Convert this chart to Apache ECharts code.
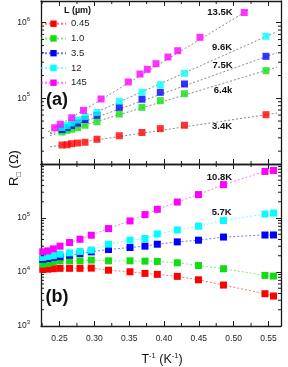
<!DOCTYPE html>
<html><head><meta charset="utf-8">
<script src="https://cdn.jsdelivr.net/npm/echarts@6/dist/echarts.min.js"></script>
<style>html,body{margin:0;padding:0;background:#fff}#c{width:288px;height:367px}</style>
</head><body><div id="c"></div>
<script>
// ---------- data ----------
const sampleNames = ['0.45', '1.0', '3.5', '12', '145'];
const sampleColors = ['#ff0000', '#11dd11', '#0000ff', '#00ffff', '#ff00ff'];

// panel (a): x = 1/T (K^-1), R in ohm
const xA = [0.2536, 0.2608, 0.2672, 0.2758, 0.2866, 0.3038, 0.3358, 0.3684, 0.3947, 0.4294, 0.5464];
const xA145 = [0.2431, 0.2511, 0.2675, 0.2844, 0.3096, 0.3488, 0.3655, 0.3760, 0.3885, 0.4057, 0.4197, 0.4517, 0.5152];
const rA045 = [24100, 24300, 25100, 25600, 26200, 28700, 32000, 35300, 39700, 44000, 60700];
const rA10 = [35800, 37700, 38900, 40800, 44000, 49000, 61900, 76000, 93000, 115000, 232000];
const rA35 = [38600, 41100, 43700, 47100, 52400, 59600, 76000, 97300, 120000, 154700, 359000];
const rA12 = [41100, 43700, 47100, 51600, 57400, 64900, 91500, 120400, 151400, 214000, 661000];
const rA145 = [40800, 45400, 55200, 69300, 97900, 164400, 209500, 241800, 287000, 351700, 426300, 641000, 1365000];

// panel (a) fit lines (end points)
const fitX = [0.2364, 0.5622];
const fitX145 = [0.2335, 0.5219];
const fitR045 = [22800, 63700];
const fitR10 = [32100, 258700];
const fitR35 = [33900, 400000];
const fitR12 = [35000, 761000];
const fitR145 = [36000, 1490000];
const fitLabels = ['3.4K', '6.4k', '7.5K', '9.6K', '13.5K'];

// panel (b)
const xB = [0.2259, 0.2331, 0.2411, 0.2507, 0.2644, 0.2794, 0.2956, 0.3203, 0.3512, 0.3727, 0.3904, 0.4191, 0.4495, 0.4854, 0.5450, 0.5572];
const rB045 = [11200, 11300, 11500, 11700, 11700, 11700, 11800, 10800, 10100, 9420, 9030, 8300, 7180, 5730, 3960, 3590];
const rB10 = [14000, 14400, 15400, 16100, 16100, 16100, 16600, 16100, 16100, 15900, 15700, 14800, 13200, 11500, 8650, 8400];
const rB35 = [17100, 17800, 18600, 19200, 20500, 22000, 23600, 26100, 28400, 30100, 32700, 36100, 38800, 44400, 48400, 48500];
const rB12 = [18600, 19400, 20100, 21400, 22600, 24000, 25400, 32700, 38800, 41700, 50700, 60100, 70400, 89600, 118500, 123200];
const rB145 = [23600, 24600, 26800, 30100, 35200, 40400, 48000, 63700, 88200, 115600, 144800, 197400, 271500, 415400, 727900, 759000];
const panelBLabels = ['5.7K', '10.8K'];

// axis ticks
const xMinorTicks = [0.225, 0.275, 0.325, 0.375, 0.425, 0.475, 0.525];
const yMinorTicksA = [20000, 30000, 40000, 50000, 60000, 70000, 80000, 90000, 200000, 300000, 400000, 500000, 600000, 700000, 800000, 900000];
const yMinorTicksB = [2000, 3000, 4000, 5000, 6000, 7000, 8000, 9000, 20000, 30000, 40000, 50000, 60000, 70000, 80000, 90000, 200000, 300000, 400000, 500000, 600000, 700000, 800000, 900000];

// ---------- chart ----------
const FONT = '"Liberation Sans", Arial, Helvetica, sans-serif';
const AX = '#1a1a1a';
const X_MIN = 0.2234, X_MAX = 0.568;
const YA_MIN = 13520, YA_MAX = 1937000;
const YB_MIN = 1000, YB_MAX = 1000000;

const zip = (xs, ys) => xs.map((x, i) => [x, ys[i]]);

function xAxis(grid, pos, showLabel) {
  return {
    type: 'value', gridIndex: grid, position: pos, min: X_MIN, max: X_MAX, splitNumber: 7,
    axisLine: { show: true, onZero: false, lineStyle: { color: AX, width: 1.3 } },
    axisTick: { show: true, inside: true, length: 5, lineStyle: { color: AX, width: 1 } },
    axisLabel: {
      show: showLabel, showMinLabel: false, showMaxLabel: false, hideOverlap: false,
      formatter: v => v.toFixed(2), fontSize: 8.5, fontFamily: FONT, color: '#222', margin: 8
    },
    splitLine: { show: false }
  };
}
function powFmt(v) {
  const e = Math.log10(v), r = Math.round(e);
  return Math.abs(e - r) < 1e-4 ? '{b|10}{s|' + r + '}' : '';
}
function yAxis(grid, pos, min, max, showLabel) {
  return {
    type: 'log', logBase: 10, gridIndex: grid, position: pos, min: min, max: max,
    axisLine: { show: true, onZero: false, lineStyle: { color: AX, width: 1.3 } },
    axisTick: { show: true, inside: true, length: 5, lineStyle: { color: AX, width: 1 } },
    axisLabel: {
      show: showLabel, showMaxLabel: grid === 0, hideOverlap: false, formatter: powFmt, margin: 11,
      rich: {
        b: { fontSize: 8.5, fontFamily: FONT, color: '#222', lineHeight: 10 },
        s: { fontSize: 6, fontFamily: FONT, color: '#222', lineHeight: 13, verticalAlign: 'top' }
      }
    },
    splitLine: { show: false }
  };
}
function minorTicks(gi, dim, values, ref) {
  return {
    type: 'custom', xAxisIndex: gi * 2, yAxisIndex: gi * 2, silent: true, clip: false, z: 5,
    data: values.map(v => dim === 'x' ? [v, ref] : [ref, v]),
    renderItem: (params, api) => {
      const cs = params.coordSys;
      const p = api.coord([api.value(0), api.value(1)]);
      const L = 3, st = { stroke: AX, lineWidth: 1 };
      if (dim === 'x') {
        return { type: 'group', children: [
          { type: 'line', shape: { x1: p[0], y1: cs.y + cs.height, x2: p[0], y2: cs.y + cs.height - L }, style: st },
          { type: 'line', shape: { x1: p[0], y1: cs.y, x2: p[0], y2: cs.y + L }, style: st }
        ] };
      }
      return { type: 'group', children: [
        { type: 'line', shape: { x1: cs.x, y1: p[1], x2: cs.x + L, y2: p[1] }, style: st },
        { type: 'line', shape: { x1: cs.x + cs.width, y1: p[1], x2: cs.x + cs.width - L, y2: p[1] }, style: st }
      ] };
    }
  };
}

const rA = [rA045, rA10, rA35, rA12, rA145];
const xAs = [xA, xA, xA, xA, xA145];
const fitRs = [fitR045, fitR10, fitR35, fitR12, fitR145];
const fitXs = [fitX, fitX, fitX, fitX, fitX145];
const rB = [rB045, rB10, rB35, rB12, rB145];

const series = [];
sampleNames.forEach((n, i) => series.push({
  name: n, type: 'line', xAxisIndex: 2, yAxisIndex: 2, data: zip(xB, rB[i]),
  symbol: 'rect', symbolSize: 7, z: 3,
  itemStyle: { color: sampleColors[i] },
  lineStyle: { color: sampleColors[i], width: 1, type: [2, 2], opacity: 0.55 }
}));
sampleNames.forEach((n, i) => series.push({
  name: 'fit ' + n, type: 'line', xAxisIndex: 0, yAxisIndex: 0, data: zip(fitXs[i], fitRs[i]),
  symbol: 'none', silent: true, z: 2,
  lineStyle: { color: '#8a8a8a', width: 1, type: [2, 2] }
}));
sampleNames.forEach((n, i) => series.push({
  name: n, type: 'scatter', xAxisIndex: 0, yAxisIndex: 0, data: zip(xAs[i], rA[i]),
  symbol: 'rect', symbolSize: 7, z: 3, itemStyle: { color: sampleColors[i] }
}));
series.push(minorTicks(0, 'x', xMinorTicks, 100000));
series.push(minorTicks(1, 'x', xMinorTicks, 10000));
series.push(minorTicks(0, 'y', yMinorTicksA, 0.3));
series.push(minorTicks(1, 'y', yMinorTicksB, 0.3));

function txt(x, y, s, font, extra) {
  return Object.assign({ type: 'text', x: x, y: y, style: { text: s, font: font, fill: '#111', textAlign: 'center', textVerticalAlign: 'middle' } }, extra || {});
}
const BOLD9 = 'bold 9.5px ' + FONT;
const annPos = [[222, 126], [223, 90.8], [222.5, 65], [222, 47.7], [220, 12.7]];
const annPosB = [[221.7, 212.3], [219.5, 177]];
const graphics = [];
fitLabels.forEach((s, i) => graphics.push(txt(annPos[i][0], annPos[i][1], s, BOLD9)));
panelBLabels.forEach((s, i) => graphics.push(txt(annPosB[i][0], annPosB[i][1], s, BOLD9)));
graphics.push(txt(77.5, 11, 'L (µm)', 'bold 9px ' + FONT));
graphics.push(txt(57, 100, '(a)', 'bold 18px ' + FONT));
graphics.push(txt(57, 297.5, '(b)', 'bold 18px ' + FONT));
graphics.push({
  type: 'text', x: 162, y: 360,
  style: {
    text: '{n|T}{s|-1}{n| (K}{s|-1}{n|)}', textAlign: 'center', textVerticalAlign: 'middle',
    rich: {
      n: { fontSize: 12.5, fontFamily: FONT, fill: '#111', lineHeight: 14 },
      s: { fontSize: 7.5, fontFamily: FONT, fill: '#111', lineHeight: 16, verticalAlign: 'top' }
    }
  }
});
graphics.push({
  type: 'text', x: 14, y: 168, rotation: Math.PI / 2,
  style: {
    text: '{n|R}{s|□}{n| (Ω)}', textAlign: 'center', textVerticalAlign: 'middle',
    rich: {
      n: { fontSize: 13, fontFamily: FONT, fill: '#111', lineHeight: 14 },
      s: { fontSize: 7.5, fontFamily: FONT, fill: '#111', lineHeight: 18, verticalAlign: 'bottom' }
    }
  }
});

const chart = echarts.init(document.getElementById('c'), null, { renderer: 'canvas' });
chart.setOption({
  animation: false,
  backgroundColor: '#fff',
  textStyle: { fontFamily: FONT },
  grid: [
    { left: 41, top: 1, width: 240, height: 163, outerBoundsMode: 'none', containLabel: false },
    { left: 41, top: 164, width: 240, height: 162, outerBoundsMode: 'none', containLabel: false }
  ],
  xAxis: [xAxis(0, 'bottom', false), xAxis(0, 'top', false), xAxis(1, 'bottom', true), xAxis(1, 'top', false)],
  yAxis: [yAxis(0, 'left', YA_MIN, YA_MAX, true), yAxis(0, 'right', YA_MIN, YA_MAX, false),
          yAxis(1, 'left', YB_MIN, YB_MAX, true), yAxis(1, 'right', YB_MIN, YB_MAX, false)],
  legend: {
    data: sampleNames, orient: 'vertical', left: 40, top: 18.7, itemWidth: 25, itemHeight: 8, itemGap: 4.75,
    selectedMode: false, padding: 0,
    textStyle: { fontSize: 9.5, fontFamily: FONT, color: '#222', lineHeight: 8 }
  },
  series: series,
  graphic: graphics
});
</script></body></html>
